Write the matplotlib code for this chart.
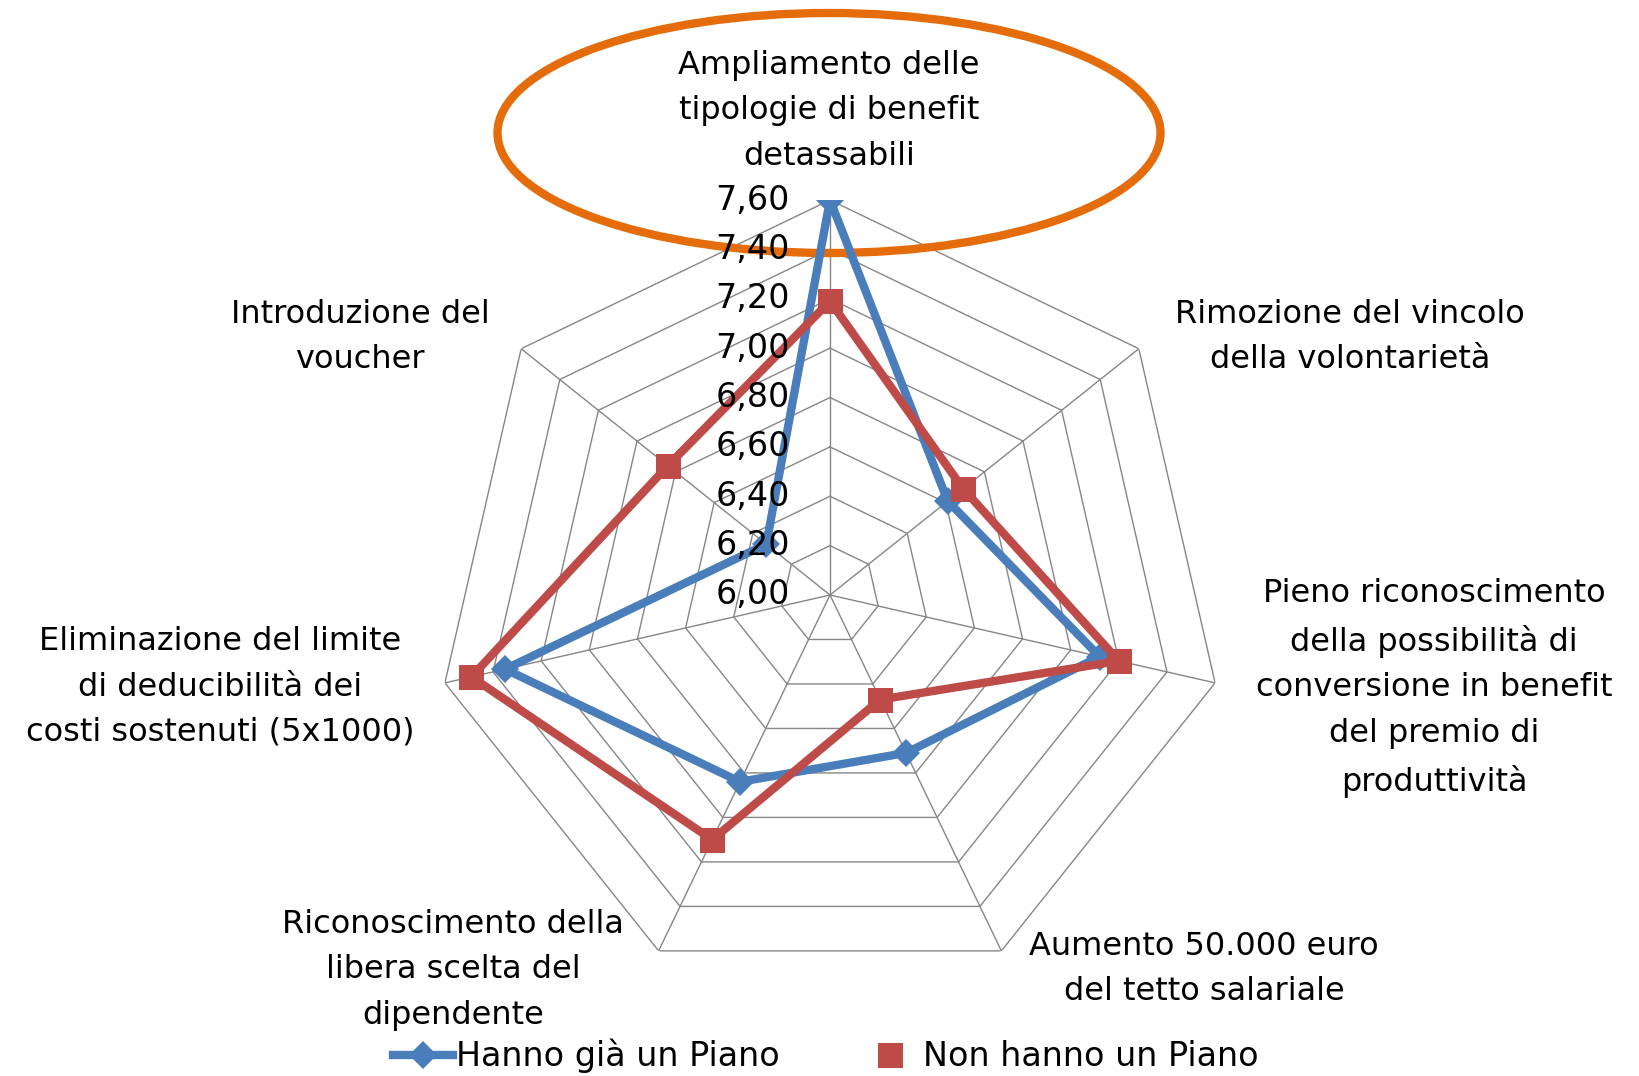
import matplotlib
matplotlib.use('Agg')
import numpy as np
import matplotlib.pyplot as plt
import matplotlib.transforms as mtransforms
from matplotlib.patches import Ellipse
from matplotlib.lines import Line2D

# dati (scala 6,00 - 7,60)
categorie = [
    'Ampliamento delle\ntipologie di benefit\ndetassabili',
    'Rimozione del vincolo\ndella volontarietà',
    'Pieno riconoscimento\ndella possibilità di\nconversione in benefit\ndel premio di\nproduttività',
    'Aumento 50.000 euro\ndel tetto salariale',
    'Riconoscimento della\nlibera scelta del\ndipendente',
    'Eliminazione del limite\ndi deducibilità dei\ncosti sostenuti (5x1000)',
    'Introduzione del\nvoucher',
]
hanno_piano = [7.60, 6.61, 7.12, 6.71, 6.84, 7.35, 6.33]
non_hanno_piano = [7.19, 6.69, 7.20, 6.47, 7.10, 7.49, 6.84]
livelli = [6.00, 6.20, 6.40, 6.60, 6.80, 7.00, 7.20, 7.40, 7.60]
etichette_livelli = ['6,00', '6,20', '6,40', '6,60', '6,80', '7,00', '7,20', '7,40', '7,60']
serie = ['Hanno già un Piano', 'Non hanno un Piano']

# posizioni delle etichette (pixel nella figura)
pos_etichette = [(829, 111), (1350, 337), (1434, 688), (1204, 969),
                 (453, 970), (220, 687), (360, 337)]

blu = '#4A7EBB'
rosso = '#BE4B48'
grigio = '#868686'
fs = 23

plt.rcParams['font.family'] = ['DejaVu Sans']

W, H = 1639, 1076
fig = plt.figure(figsize=(W / 100, H / 100), dpi=100)
cx, cy, R = 830, 595, 395
ax = fig.add_axes([(cx - R) / W, 1 - (cy + R) / H, 2 * R / W, 2 * R / H],
                  projection='polar')
ax.set_theta_zero_location('N')
ax.set_theta_direction(-1)
ax.patch.set_visible(False)

n = len(categorie)
ang = np.linspace(0, 2 * np.pi, n, endpoint=False)
ang_c = np.append(ang, ang[0])

# griglia a ettagono
for v in livelli[1:]:
    ax.plot(ang_c, [v] * (n + 1), color=grigio, lw=1.0, zorder=1)
for a in ang:
    ax.plot([a, a], [livelli[0], livelli[-1]], color=grigio, lw=1.0, zorder=1)

# ellisse arancione attorno alla prima voce
ell = Ellipse((829 / W, 1 - 133 / H), 663 / W, 240 / H, transform=fig.transFigure,
              fill=False, edgecolor='#E46C0A', lw=6, zorder=2, clip_on=False)
ax.add_artist(ell)

ax.plot(ang_c, hanno_piano + hanno_piano[:1], color=blu, lw=6, marker='D',
        ms=14, markeredgewidth=0, zorder=4)
ax.plot(ang_c, non_hanno_piano + non_hanno_piano[:1], color=rosso, lw=6,
        marker='s', ms=18, markeredgewidth=0, zorder=5)

ax.grid(False)
ax.spines['polar'].set_visible(False)
ax.set_xticks([])
ax.set_yticks([])
ax.set_ylim(livelli[0], livelli[-1])

# etichette della scala, a sinistra dell'asse verticale
off = mtransforms.offset_copy(ax.transData, fig=fig, x=-40, y=0, units='dots')
for v, t in zip(livelli, etichette_livelli):
    ax.text(0, v, t, transform=off, ha='right', va='center', fontsize=fs + 1,
            color='black', zorder=6, clip_on=False)

for (x, y), lab in zip(pos_etichette, categorie):
    fig.text(x / W, 1 - y / H, lab, ha='center', va='center',
             multialignment='center', fontsize=fs, color='black',
             linespacing=1.6)

handles = [Line2D([], [], color=blu, lw=6, marker='D', ms=14, markeredgewidth=0),
           Line2D([], [], color=rosso, lw=0, marker='s', ms=18, markeredgewidth=0)]
fig.legend(handles, serie, loc='center', bbox_to_anchor=(826 / W, 1 - 1056 / H),
           ncol=2, frameon=False, fontsize=fs + 1, handlelength=1.8,
           handletextpad=0.1, columnspacing=2.4, borderpad=0)

fig.savefig('out.png', dpi=100)
